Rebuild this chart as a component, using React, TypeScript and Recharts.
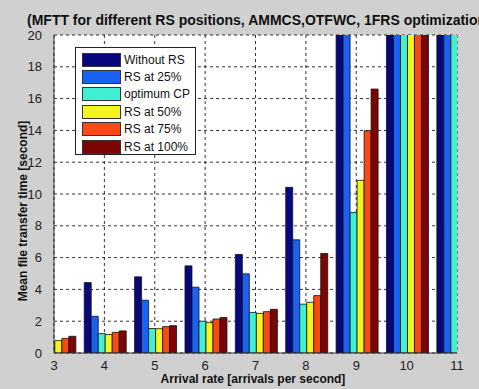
import { BarChart, Bar, XAxis, YAxis, CartesianGrid } from "recharts";

// arrival rates (arrivals per second)
const rates = [3, 4, 5, 6, 7, 8, 9, 10, 11];

// mean file transfer time [s] per scheme; values above 20 run off the axis
const withoutRS = [3.2, 4.43, 4.79, 5.48, 6.2, 10.42, 24, 40, 60];
const rsAt25 = [1.6, 2.31, 3.32, 4.14, 4.98, 7.12, 22, 36, 55];
const optimumCP = [0.7, 1.22, 1.54, 2.0, 2.55, 3.07, 8.83, 30, 50];
const rsAt50 = [0.78, 1.16, 1.53, 1.91, 2.49, 3.19, 10.86, 32, 52];
const rsAt75 = [0.92, 1.3, 1.66, 2.14, 2.6, 3.61, 13.98, 34, 54];
const rsAt100 = [1.05, 1.39, 1.72, 2.23, 2.75, 6.26, 16.6, 36, 56];

const yTicks = [0, 2, 4, 6, 8, 10, 12, 14, 16, 18, 20];

const series = [
  { key: "withoutRS", name: "Without RS", values: withoutRS, color: "#08087e" },
  { key: "rsAt25", name: "RS at 25%", values: rsAt25, color: "#1a62f4" },
  { key: "optimumCP", name: "optimum CP", values: optimumCP, color: "#3ef0d4" },
  { key: "rsAt50", name: "RS at 50%", values: rsAt50, color: "#f4f41e" },
  { key: "rsAt75", name: "RS at 75%", values: rsAt75, color: "#f84a12" },
  { key: "rsAt100", name: "RS at 100%", values: rsAt100, color: "#7c0404" },
];

const data = rates.map((rate, i) => {
  const row: Record<string, number> = { rate };
  series.forEach((s) => {
    row[s.key] = s.values[i];
  });
  return row;
});

const FONT = '"Liberation Sans", Arial, sans-serif';

// legend box drawn over the plot's upper-left corner
function LegendBox() {
  return (
    <div
      style={{
        position: "absolute",
        left: 75,
        top: 47,
        width: 121,
        height: 108,
        background: "#fff",
        border: "1px solid #222",
        padding: "3px 0 0 6px",
        boxSizing: "border-box",
        fontSize: 12,
        color: "#111",
        whiteSpace: "nowrap",
      }}
    >
      {series.map((s) => (
        <div key={s.key} style={{ display: "flex", alignItems: "center", height: 17.4 }}>
          <span
            style={{
              display: "inline-block",
              width: 37,
              height: 12,
              background: s.color,
              border: "1px solid #333",
              marginRight: 3,
              flexShrink: 0,
            }}
          />
          <span>{s.name}</span>
        </div>
      ))}
    </div>
  );
}

export default function App() {
  return (
    <div
      style={{
        position: "absolute",
        left: 0,
        top: 0,
        width: 479,
        height: 389,
        background: "#d0d0d0",
        overflow: "hidden",
        fontFamily: FONT,
      }}
    >
      <div
        style={{
          position: "absolute",
          left: 27,
          top: 12,
          whiteSpace: "nowrap",
          fontWeight: "bold",
          fontSize: 14,
          color: "#111",
        }}
      >
        (MFTT for different RS positions, AMMCS,OTFWC, 1FRS optimization)
      </div>
      <div
        style={{
          position: "absolute",
          left: 23,
          top: 211,
          transform: "translate(-50%, -50%) rotate(-90deg)",
          whiteSpace: "nowrap",
          fontWeight: "bold",
          fontSize: 12,
          color: "#111",
        }}
      >
        Mean file transfer time [second]
      </div>
      <div
        style={{
          position: "absolute",
          left: 253,
          top: 379,
          transform: "translate(-50%, -50%)",
          whiteSpace: "nowrap",
          fontWeight: "bold",
          fontSize: 12,
          color: "#111",
        }}
      >
        Arrival rate [arrivals per second]
      </div>
      <BarChart
        width={479}
        height={389}
        data={data}
        margin={{ top: 35, right: 22, left: 24, bottom: 16 }}
        barGap={0}
        barCategoryGap="10%"
        style={{ position: "absolute", left: 0, top: 0 }}
      >
        <CartesianGrid stroke="#000" strokeDasharray="3 3" strokeWidth={0.8} fill="#fff" />
        <XAxis
          dataKey="rate"
          type="number"
          domain={[3, 11]}
          ticks={rates}
          interval={0}
          allowDataOverflow
          height={20}
          tickLine={false}
          axisLine={{ stroke: "#333" }}
          tick={{ fill: "#222", fontSize: 13, fontFamily: FONT }}
          tickMargin={2}
        />
        <YAxis
          domain={[0, 20]}
          ticks={yTicks}
          interval={0}
          allowDataOverflow
          width={30}
          tickLine={false}
          axisLine={{ stroke: "#333" }}
          tick={{ fill: "#222", fontSize: 13, fontFamily: FONT }}
          tickMargin={6}
        />
        {series.map((s) => (
          <Bar
            key={s.key}
            dataKey={s.key}
            name={s.name}
            fill={s.color}
            stroke="#111"
            strokeWidth={0.8}
            isAnimationActive={false}
          />
        ))}
      </BarChart>
      <LegendBox />
    </div>
  );
}
